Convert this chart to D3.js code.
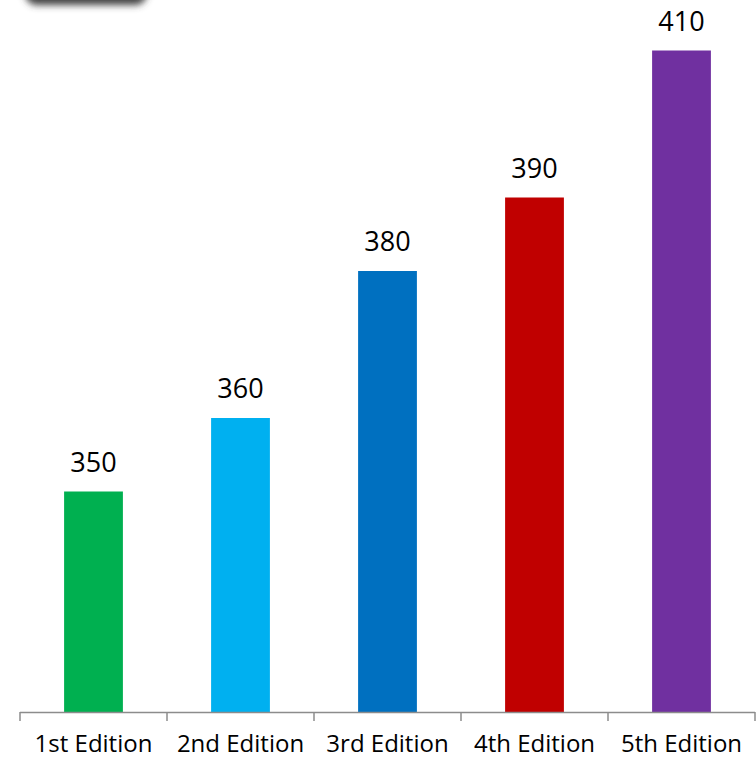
<!DOCTYPE html>
<html><head><meta charset="utf-8">
<script src="https://cdn.jsdelivr.net/npm/d3@7"></script>
<style>body{margin:0;background:#fff;}svg{display:block;}</style>
</head><body>
<script>
const categories = ["1st Edition","2nd Edition","3rd Edition","4th Edition","5th Edition"];
const values = [350, 360, 380, 390, 410];
const colors = ["#00B050","#00B0F0","#0070C0","#C00000","#7030A0"];

const W = 756, H = 761;
const svg = d3.select("body").append("svg").attr("width", W).attr("height", H);

// blurred shadow remnant at top-left
const defs = svg.append("defs");
defs.append("filter").attr("id","blur").attr("x","-50%").attr("y","-50%").attr("width","200%").attr("height","200%")
  .append("feGaussianBlur").attr("stdDeviation", 3.5);
svg.append("rect").attr("x", 25).attr("y", -40).attr("width", 122).attr("height", 45)
  .attr("rx", 12).attr("fill", "#444").attr("filter", "url(#blur)");

const x = d3.scaleBand().domain(categories).range([20, 755]).paddingInner(0.6).paddingOuter(0.3);
const y = d3.scaleLinear().domain([320, 420]).range([712, -23]);

const xAxis = d3.scaleBand().domain(categories).range([20, 755]);

svg.selectAll("rect.bar").data(values).join("rect").attr("class","bar")
  .attr("x", (d,i) => x(categories[i]))
  .attr("width", x.bandwidth())
  .attr("y", d => y(d))
  .attr("height", d => y(320) - y(d))
  .attr("fill", (d,i) => colors[i]);

svg.selectAll("text.val").data(values).join("text").attr("class","val")
  .attr("x", (d,i) => x(categories[i]) + x.bandwidth()/2)
  .attr("y", d => y(d) - 20)
  .attr("text-anchor","middle")
  .attr("font-family","'Open Sans', sans-serif")
  .attr("font-size", 27)
  .attr("fill","#000")
  .text(d => d);

// axis line and ticks
const axisG = svg.append("g");
axisG.append("line").attr("x1", 20).attr("x2", 755).attr("y1", 712.5).attr("y2", 712.5)
  .attr("stroke","#8c8c8c").attr("stroke-width", 1.5);
const tickXs = categories.map(c => xAxis(c)).concat([xAxis(categories[categories.length-1]) + xAxis.bandwidth()]);
axisG.selectAll("line.tick").data(tickXs).join("line").attr("class","tick")
  .attr("x1", d => d).attr("x2", d => d).attr("y1", 712).attr("y2", 721)
  .attr("stroke","#8c8c8c").attr("stroke-width", 1.5);

svg.selectAll("text.cat").data(categories).join("text").attr("class","cat")
  .attr("x", d => xAxis(d) + xAxis.bandwidth()/2)
  .attr("y", 752)
  .attr("text-anchor","middle")
  .attr("font-family","'Open Sans', sans-serif")
  .attr("font-size", 24)
  .attr("fill","#000")
  .text(d => d);
</script>
</body></html>
